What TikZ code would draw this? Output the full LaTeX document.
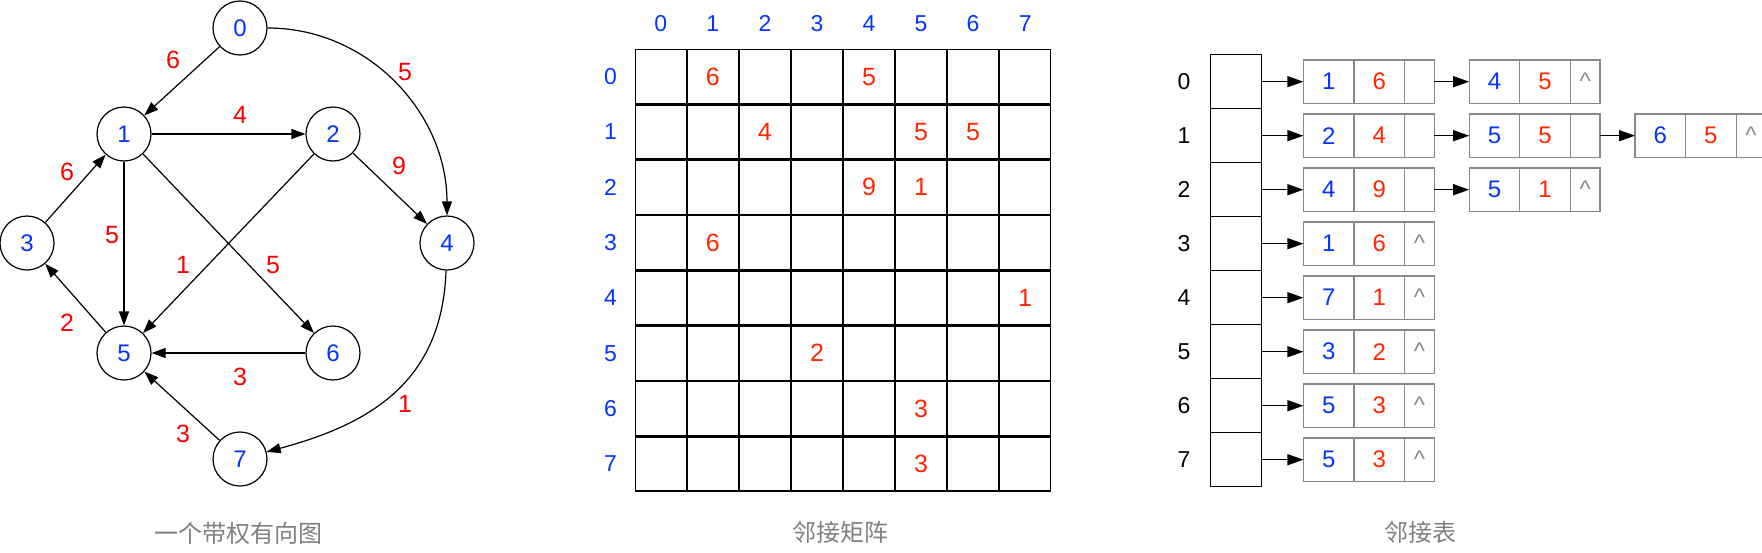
\documentclass[tikz,border=0pt]{standalone}
\usepackage{fontspec}
\setmainfont{Liberation Sans}
\newfontfamily\cjk{Noto Sans CJK SC}
\usetikzlibrary{matrix,arrows.meta,positioning}
\definecolor{vblue}{RGB}{4,51,255}
\definecolor{gred}{RGB}{255,0,0}
\definecolor{wred}{RGB}{255,38,0}
\definecolor{egray}{RGB}{136,136,136}
\definecolor{capgray}{RGB}{128,128,128}
\newcommand{\fsz}[1]{\fontsize{#1pt}{#1pt}\selectfont}
\tikzset{
	vtx/.style={circle, draw, line width=1.2pt, minimum size=54pt, inner sep=0pt, text=vblue, font=\fsz{24}},
	wlab/.style={text=gred, inner sep=0pt, font=\fsz{25}},
	garr/.style={line width=1.2pt, -{Triangle[length=14pt,width=10pt]}},
	cell/.style={draw, line width=1.3pt, minimum width=50.75pt, minimum height=54pt, inner sep=0pt, outer sep=0pt, anchor=center, text=wred, font=\fsz{25}},
	mlab/.style={text=vblue, inner sep=0pt, font=\fsz{23}},
	vcell/.style={draw, line width=1.4pt, minimum width=50.5pt, minimum height=54pt, inner sep=0pt, outer sep=0pt},
	lrlab/.style={inner sep=0pt, font=\fsz{23}},
	ecell/.style={draw=egray, line width=1.3pt, minimum width=50.6pt, minimum height=43.5pt, inner sep=0pt, outer sep=0pt, font=\fsz{24}},
	pcell/.style={minimum width=29.7pt, text=egray},
	larr/.style={line width=1.3pt, -{Triangle[length=16pt,width=11pt]}},
	captxt/.style={text=capgray, inner sep=0pt, font=\cjk\fsz{24}}
}
\begin{document}
\begin{tikzpicture}[x=1pt, y=-1pt]
	\useasboundingbox (0,0) rectangle (1762,552);
	\clip (0,0) rectangle (1762,552);
	% weighted digraph
	\foreach \i/\x/\y in {0/240/28, 1/124/134, 2/333/134, 3/27/243, 4/447/243, 5/124/353, 6/333/353, 7/240/459}
		\node[vtx] (n\i) at (\x,\y) {\i};
	\foreach \a/\b in {0/1, 1/2, 2/4, 3/1, 1/5, 2/5, 1/6, 5/3, 6/5, 7/5}
		\draw[garr] (n\a) -- (n\b);
	\draw[garr] (n0) to[out=0, in=90] (n4);
	\draw[garr] (n4) to[out=-92, in=15, looseness=1.1] (n7);
	\foreach \nm/\x/\y/\w in {01/173/60/6, 04/405/72/5, 12/240/115/4, 24/399/166/9, 31/67/172/6, 15/112/235/5,
			25/183/265/1, 16/273/265/5, 53/67/323/2, 65/240/377/3, 75/183/434/3, 47/405/404/1}
		\node[wlab] (w\nm) at (\x,\y) {\w};
	\node[captxt] (capG) at (238,533) {一个带权有向图};
	% adjacency matrix
	\matrix [matrix of nodes, nodes in empty cells, nodes={cell}, column sep=0pt, row sep=0pt]
	(M) at (843,270.3)
	{
		& 6 &   &   & 5 &   &   &   \\
		&   & 4 &   &   & 5 & 5 &   \\
		&   &   &   & 9 & 1 &   &   \\
		& 6 &   &   &   &   &   &   \\
		&   &   &   &   &   &   & 1 \\
		&   &   & 2 &   &   &   &   \\
		&   &   &   &   & 3 &   &   \\
		&   &   &   &   & 3 &   &   \\
	};
	\foreach \c [count=\k] in {0,...,7} {
		\node[mlab] (mc\c) at ([yshift=26pt]M-1-\k.north) {\c};
		\node[mlab] (mr\c) at ([xshift=-25pt]M-\k-1.west) {\c};
	}
	\node[captxt] (capM) at (840,532) {邻接矩阵};
	% adjacency list
	\foreach \r in {0,...,7} {
		\node[vcell] (v\r) at (1236,81.7+54*\r) {};
		\node[lrlab] (lr\r) at (1184,81.7+54*\r) {\r};
	}
	\foreach \r/\lst in {0/{1/6/0,4/5/1}, 1/{2/4/0,5/5/0,6/5/1}, 2/{4/9/0,5/1/1}, 3/{1/6/1},
			4/{7/1/1}, 5/{3/2/1}, 6/{5/3/1}, 7/{5/3/1}} {
		\foreach \t/\w/\e [count=\k] in \lst {
			\node[ecell, text=vblue] (e\r-\k-a) at (1328.7+165.8*\k-165.8,81.7+54*\r) {\t};
			\node[ecell, text=wred, right=0pt of e\r-\k-a] (e\r-\k-b) {\w};
			\node[ecell, pcell, right=0pt of e\r-\k-b] (e\r-\k-c) {\ifnum\e=1 \textasciicircum\fi};
			\pgfmathtruncatemacro\pk{\k-1}
			\ifnum\k=1 \def\src{v\r}\else \def\src{e\r-\pk-c}\fi
			\draw[larr] (\src.east) -- (e\r-\k-a.west);
		}
	}
	\node[captxt] (capL) at (1420,532) {邻接表};
\end{tikzpicture}
\end{document}
